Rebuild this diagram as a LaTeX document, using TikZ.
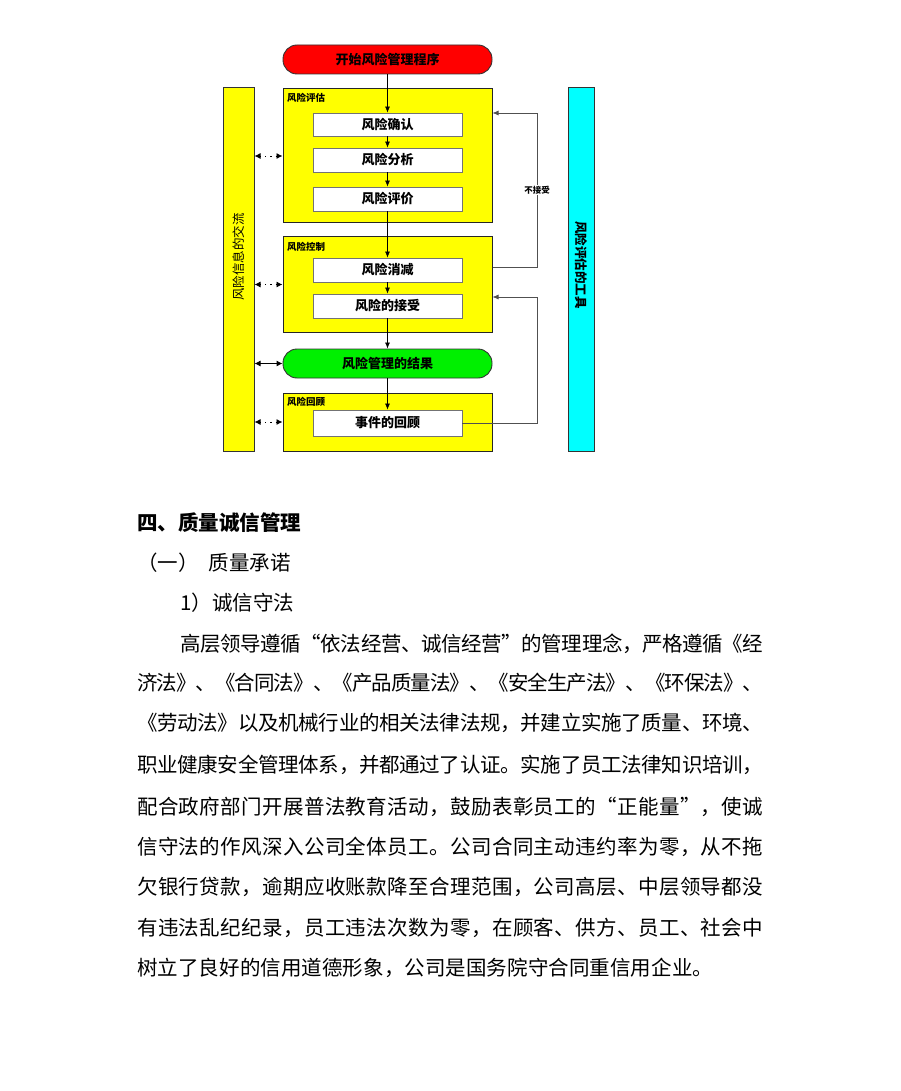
\documentclass[tikz,border=0pt]{standalone}
\usepackage{fontspec}
\setmainfont{Noto Sans CJK SC}
\usetikzlibrary{arrows.meta}
\def\jglue{\hskip 0pt plus 1fil minus 1fil\relax}
\def\spreadchars#1{\spreadA#1\relax}
\def\spreadA#1{#1\spreadB}
\def\spreadB#1{\ifx#1\relax\else\jglue#1\expandafter\spreadB\fi}
\newcommand\jline[2]{\makebox[#1][s]{\spreadchars{#2}}}
\definecolor{myred}{RGB}{255,0,0}
\definecolor{myyellow}{RGB}{255,255,0}
\definecolor{mygreen}{RGB}{0,240,0}
\definecolor{mycyan}{RGB}{0,255,255}
\definecolor{fbgray}{RGB}{80,80,80}
\tikzset{
  pill/.style={draw=black!80, line width=0.9pt, rounded corners=14pt, minimum width=209pt, minimum height=29pt, inner sep=0pt, font=\fontsize{13}{15}\selectfont\bfseries},
  groupbox/.style={draw=black!85, line width=1pt, fill=myyellow, minimum width=209pt, inner sep=0pt},
  stepbox/.style={draw=black!55, line width=0.8pt, fill=white, minimum width=149pt, inner sep=0pt, font=\fontsize{13}{15}\selectfont\bfseries},
  grouplabel/.style={anchor=west, inner sep=0pt, font=\fontsize{9.5}{11}\selectfont\bfseries},
  bar/.style={draw=black!80, line width=1pt, minimum height=363pt, inner sep=0pt},
  flow/.style={draw=black, line width=0.7pt, -{Latex[length=6pt,width=5pt]}},
  fb/.style={draw=fbgray, line width=0.7pt, -{Latex[length=6pt,width=5pt]}},
  dotarr/.style={draw=black, line width=0.9pt, dash pattern=on 1.2pt off 4pt, {Latex[length=6pt,width=6pt]}-{Latex[length=6pt,width=6pt]}},
  solidarr/.style={draw=black, line width=0.9pt, {Latex[length=6pt,width=6pt]}-{Latex[length=6pt,width=6pt]}},
  body/.style={anchor=west, inner sep=0pt, font=\fontsize{20.5}{24}\selectfont}
}
\begin{document}
\begin{tikzpicture}[x=1pt,y=-1pt]
\useasboundingbox (0,0) rectangle (900,1091);
\fill[white] (0,0) rectangle (900,1091);

% side bars
\node[bar, fill=myyellow, minimum width=31pt] (lbar) at (238.5,269.5) {};
\node[rotate=90, inner sep=0pt, font=\fontsize{12.5}{14}\selectfont] (ltext) at (238.5,257) {风险信息的交流};
\node[bar, fill=mycyan, minimum width=26pt] (rbar) at (581,269.5) {};
\node[rotate=-90, inner sep=0pt, font=\fontsize{12.5}{14}\selectfont\bfseries] (rtext) at (581,265) {风险评估的工具};

% main column
\node[pill, fill=myred] (start) at (387.5,59.5) {开始风险管理程序};

\node[groupbox, minimum height=134pt] (assess) at (387.5,156) {};
\node[grouplabel] (lassess) at (287,98) {风险评估};
\node[stepbox, minimum height=23pt] (r1) at (387.5,124.5) {风险确认};
\node[stepbox, minimum height=24pt] (r2) at (387.5,160) {风险分析};
\node[stepbox, minimum height=24pt] (r3) at (387.5,199) {风险评价};

\node[groupbox, minimum height=95pt] (ctrl) at (387.5,284.5) {};
\node[grouplabel] (lctrl) at (287,247) {风险控制};
\node[stepbox, minimum height=24pt] (r4) at (387.5,270) {风险消减};
\node[stepbox, minimum height=24pt] (r5) at (387.5,306) {风险的接受};

\node[pill, fill=mygreen] (result) at (387.5,363.5) {风险管理的结果};

\node[groupbox, minimum height=58pt] (review) at (387.5,422) {};
\node[grouplabel] (lreview) at (287,402) {风险回顾};
\node[stepbox, minimum height=26pt] (r6) at (387.5,423) {事件的回顾};

% flow arrows
\draw[flow] (start) -- (r1);
\draw[flow] (r1) -- (r2);
\draw[flow] (r2) -- (r3);
\draw[flow] (r3) -- (r4);
\draw[flow] (r4) -- (r5);
\draw[flow] (r5) -- (result);
\draw[flow] (result) -- (r6);

% feedback loops
\coordinate (c1) at (537,267);
\coordinate (c2) at (537,113);
\coordinate (c3) at (537,423);
\coordinate (c4) at (537,297);
\draw[fb] (ctrl.east |- c1) -- (c1) -- (c2) -- (assess.east |- c2);
\node[fill=white, inner sep=1pt, font=\fontsize{8.5}{10}\selectfont\bfseries] (reject) at (537,190) {不接受};
\draw[fb] (r6.east) -- (c3) -- (c4) -- (ctrl.east |- c4);

% communication arrows
\draw[dotarr] (lbar.east |- assess.west) -- (assess.west);
\draw[dotarr] (lbar.east |- ctrl.west) -- (ctrl.west);
\draw[solidarr] (lbar.east |- result.west) -- (result.west);
\draw[dotarr] (lbar.east |- review.west) -- (review.west);

% text section
\node[body, font=\fontsize{20.5}{24}\selectfont\bfseries] (h1) at (137,523) {四、质量诚信管理};
\node[body] (h2) at (137,563) {（一）\hspace{10pt}质量承诺};
\node[body] (h3) at (180,603) {1）诚信守法};
\node[body] (p1) at (180,644) {\jline{583pt}{高层领导遵循“依法经营、诚信经营”的管理理念，严格遵循《经}};
\node[body] (p2) at (137,683) {\jline{626pt}{济法》、《合同法》、《产品质量法》、《安全生产法》、《环保法》、}};
\node[body] (p3) at (137,723) {\jline{626pt}{《劳动法》以及机械行业的相关法律法规，并建立实施了质量、环境、}};
\node[body] (p4) at (137,765) {\jline{626pt}{职业健康安全管理体系，并都通过了认证。实施了员工法律知识培训，}};
\node[body] (p5) at (137,807) {\jline{626pt}{配合政府部门开展普法教育活动，鼓励表彰员工的“正能量”，使诚}};
\node[body] (p6) at (137,847) {\jline{626pt}{信守法的作风深入公司全体员工。公司合同主动违约率为零，从不拖}};
\node[body] (p7) at (137,887) {\jline{626pt}{欠银行贷款，逾期应收账款降至合理范围，公司高层、中层领导都没}};
\node[body] (p8) at (137,928) {\jline{626pt}{有违法乱纪纪录，员工违法次数为零，在顾客、供方、员工、社会中}};
\node[body] (p9) at (137,968) {\jline{576pt}{树立了良好的信用道德形象，公司是国务院守合同重信用企业。}};
\end{tikzpicture}
\end{document}
